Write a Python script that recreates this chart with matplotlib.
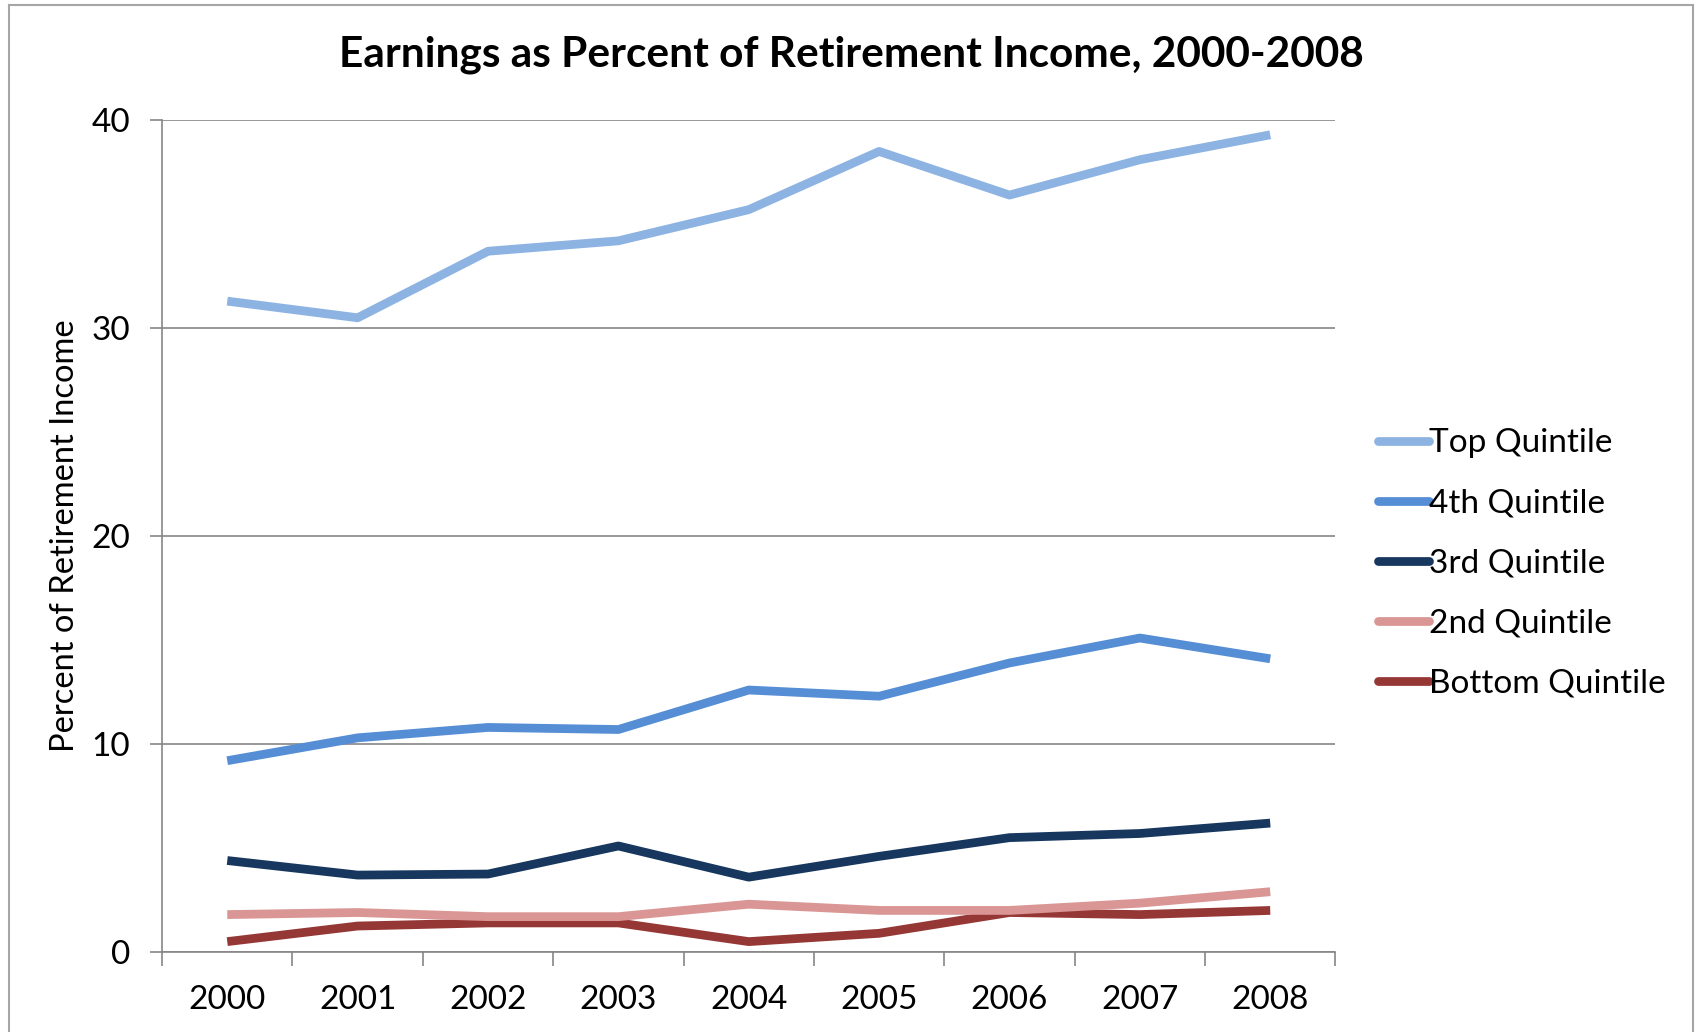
"""Line chart of earnings as a share of retirement income by quintile."""

from matplotlib import pyplot as plt
from matplotlib.lines import Line2D
import numpy as np

years = ["2000", "2001", "2002", "2003", "2004", "2005", "2006", "2007", "2008"]

top_quintile = [31.3, 30.5, 33.7, 34.2, 35.7, 38.5, 36.4, 38.1, 39.3]
fourth_quintile = [9.2, 10.3, 10.8, 10.7, 12.6, 12.3, 13.9, 15.1, 14.1]
third_quintile = [4.4, 3.7, 3.75, 5.1, 3.6, 4.6, 5.5, 5.7, 6.2]
second_quintile = [1.8, 1.9, 1.7, 1.7, 2.3, 2.0, 2.0, 2.35, 2.9]
bottom_quintile = [0.5, 1.25, 1.4, 1.4, 0.5, 0.9, 1.9, 1.8, 2.0]

series_names = ["Top Quintile", "4th Quintile", "3rd Quintile",
                "2nd Quintile", "Bottom Quintile"]
series_values = [top_quintile, fourth_quintile, third_quintile,
                 second_quintile, bottom_quintile]
series_colors = ["#8DB3E2", "#558ED5", "#17375E", "#D99694", "#953735"]

plt.rcParams["font.family"] = ["Lato", "DejaVu Sans"]

fig = plt.figure(figsize=(16.99, 10.32), dpi=100)
axes = fig.add_axes([0.0954, 0.0775, 0.6906, 0.806])

x = np.arange(len(years))
# draw the bottom series first so the top quintile sits on top, like Excel
for name, values, color in reversed(list(zip(series_names, series_values, series_colors))):
    axes.plot(x, values, color=color, linewidth=6.3, label=name,
              solid_capstyle="butt", solid_joinstyle="round")

axes.set_xlim(-0.5, len(years) - 0.5)
axes.set_ylim(0, 40)
axes.set_yticks([0, 10, 20, 30, 40])
axes.set_xticks(x)
axes.set_xticklabels(years)
axes.set_xticks(np.arange(-0.5, len(years)), minor=True)
axes.tick_params(axis="x", which="major", length=0, pad=24, labelsize=24)
axes.tick_params(axis="x", which="minor", length=10, width=1.2, color="#868686")
axes.tick_params(axis="y", length=9, width=1.2, color="#868686", pad=14, labelsize=24)

axes.yaxis.grid(True, color="#868686", linewidth=1.2)
axes.set_axisbelow(True)
for side in ["top", "right"]:
    axes.spines[side].set_visible(False)
for side in ["left", "bottom"]:
    axes.spines[side].set_color("#868686")
    axes.spines[side].set_linewidth(1.2)

axes.set_ylabel("Percent of Retirement Income", fontsize=23.5, labelpad=8)
fig.text(0.501, 0.947, "Earnings as Percent of Retirement Income, 2000-2008",
         ha="center", va="center", fontsize=30.5, fontweight="bold")

handles = [Line2D([], [], color=c, linewidth=6.3, solid_capstyle="round")
           for c in series_colors]
fig.legend(handles, series_names, loc="upper left",
           bbox_to_anchor=(0.803, 0.598), frameon=False, fontsize=24,
           handlelength=1.55, handletextpad=0.0, labelspacing=0.9,
           borderaxespad=0)

# thin grey frame around the chart
for xs, ys in [([0.0053, 0.0053], [0, 0.995]), ([0.0053, 0.9965], [0.995, 0.995]),
               ([0.9965, 0.9965], [0, 0.995])]:
    fig.add_artist(Line2D(xs, ys, color="#A6A6A6", linewidth=1.5,
                          transform=fig.transFigure))

fig.savefig("out.png", dpi=100)
